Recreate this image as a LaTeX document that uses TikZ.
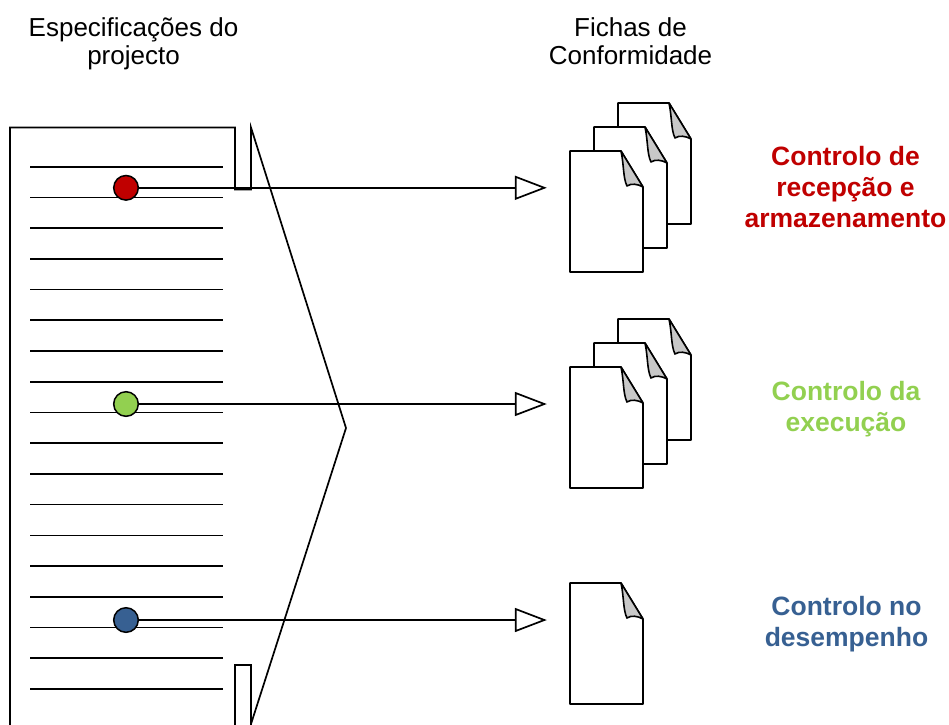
\documentclass[tikz,border=0pt]{standalone}
\usepackage{fontspec}
\setmainfont{Liberation Sans}
\usetikzlibrary{arrows.meta}

\definecolor{recred}{HTML}{C00000}
\definecolor{exegreen}{HTML}{92D050}
\definecolor{desblue}{HTML}{376092}
\definecolor{foldgray}{HTML}{C8C8C8}

\tikzset{
  pageline/.style={line width=1.7pt, line join=miter},
  ruleline/.style={line width=1.7pt},
  docline/.style={draw, line width=1.6pt, line join=round},
  conn/.style={line width=1.7pt, -{Triangle[open, length=32pt, width=24pt]}, shorten >=23pt},
  marker/.style={circle, draw, line width=1.5pt, minimum size=24.6pt, inner sep=0pt},
  heading/.style={font=\fontsize{26}{27.5}\selectfont, align=center, anchor=base},
  ctrllabel/.style={font=\bfseries\fontsize{26.5}{31}\selectfont, align=center, anchor=base},
  % a single sheet with a curled top-right corner, origin at its top-left
  fichadoc/.pic={
    \path[docline, fill=white] (0,0) -- (51,0) -- (73,36) -- (73,121) -- (0,121) -- cycle;
    \path[docline, fill=foldgray] (51,0) .. controls (54,14) and (53,27) .. (57,35)
          .. controls (61,32) and (68,33) .. (73,36) -- cycle;
    \node[inner sep=0pt, minimum width=73pt, minimum height=121pt] (-f) at (36.5,60.5) {};
  }
}

\begin{document}
\begin{tikzpicture}[x=1pt, y=-1pt]
  \useasboundingbox (0,0) rectangle (949,724);
  \clip (0,0) rectangle (949,724);

  % column headings (anchored on the baseline of their last line)
  \node[heading] (hspec) at (133.5,64.2) {Especificações do\\projecto};
  \node[heading] (hfich) at (630.5,64.2) {Fichas de\\Conformidade};

  % specification sheet with its tabs and brace
  \draw[pageline] (10,740) -- (10,127.5) -- (235,127.5) -- (235,189.5) -- (251,189.5)
        -- (251,127.5) -- (346,428) -- (251,724);
  \draw[pageline] (235,740) -- (235,665) -- (251,665) -- (251,740);

  % text lines of the sheet
  \foreach \k in {0,...,17}
    \draw[ruleline] ({30},{166.7+30.72*\k}) -- ({223},{166.7+30.72*\k});

  % stacks of conformity sheets
  \pic (a3) at (618,103) {fichadoc};
  \pic (a2) at (594,127) {fichadoc};
  \pic (a1) at (570,151) {fichadoc};

  \pic (b3) at (618,319) {fichadoc};
  \pic (b2) at (594,343) {fichadoc};
  \pic (b1) at (570,367) {fichadoc};

  \pic (c1) at (570,583) {fichadoc};

  % markers on the specification lines
  \node[marker, fill=recred]   (mrec) at (126,187.8) {};
  \node[marker, fill=exegreen] (mexe) at (126,404) {};
  \node[marker, fill=desblue]  (mdes) at (126,620) {};

  % connectors
  \draw[conn] (mrec.east) -- (mrec -| a1-f.west);
  \draw[conn] (mexe.east) -- (mexe -| b1-f.west);
  \draw[conn] (mdes.east) -- (mdes -| c1-f.west);

  % control labels (anchored on the baseline of their last line)
  \node[ctrllabel, text=recred]   (lrec) at (845.5,227) {Controlo de\\recepção e\\armazenamento};
  \node[ctrllabel, text=exegreen] (lexe) at (846,431.7) {Controlo da\\execução};
  \node[ctrllabel, text=desblue]  (ldes) at (846.5,646.7) {Controlo no\\desempenho};
\end{tikzpicture}
\end{document}
